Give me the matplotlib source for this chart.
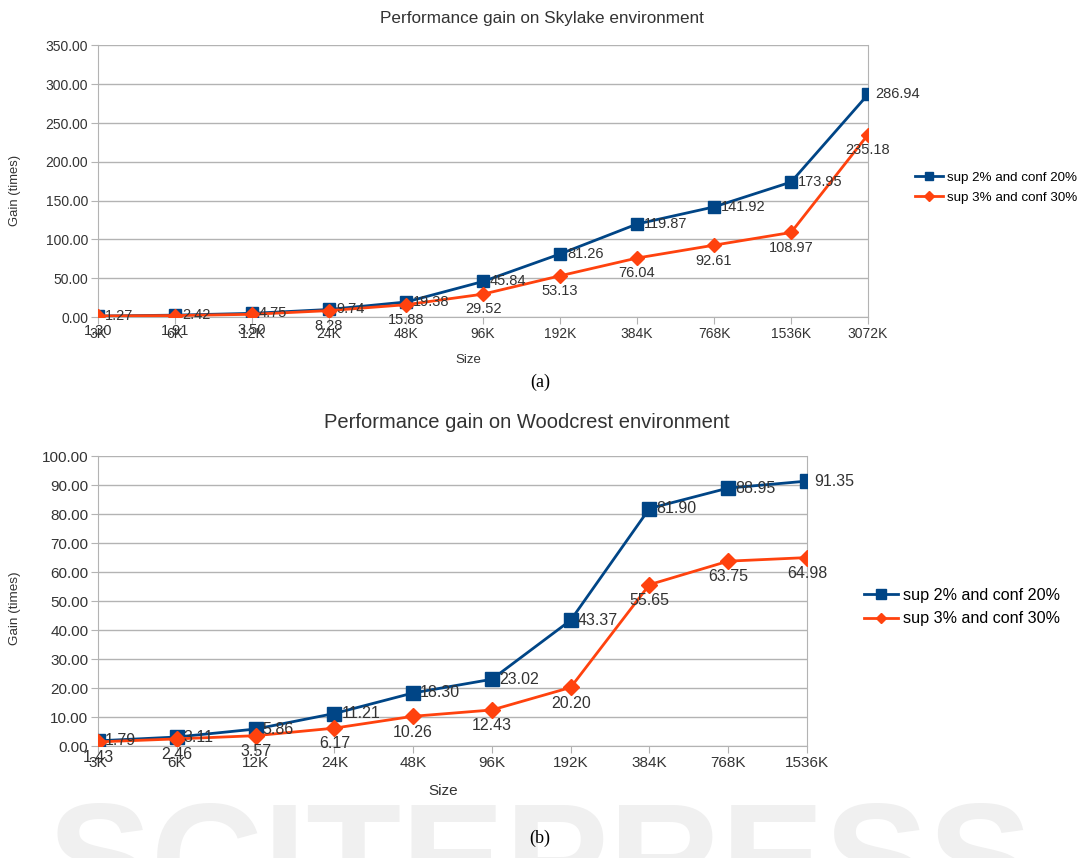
import matplotlib.pyplot as plt

plt.rcParams['font.family'] = ['Liberation Sans', 'DejaVu Sans']

# top chart (Skylake)
sizes_a = ["3K", "6K", "12K", "24K", "48K", "96K", "192K", "384K", "768K", "1536K", "3072K"]
sup2_a = [1.27, 2.42, 4.75, 9.74, 19.38, 45.84, 81.26, 119.87, 141.92, 173.95, 286.94]
sup3_a = [1.30, 1.91, 3.50, 8.28, 15.88, 29.52, 53.13, 76.04, 92.61, 108.97, 235.18]

# bottom chart (Woodcrest)
sizes_b = ["3K", "6K", "12K", "24K", "48K", "96K", "192K", "384K", "768K", "1536K"]
sup2_b = [1.79, 3.11, 5.86, 11.21, 18.30, 23.02, 43.37, 81.90, 88.95, 91.35]
sup3_b = [1.43, 2.46, 3.57, 6.17, 10.26, 12.43, 20.20, 55.65, 63.75, 64.98]

names = ["sup 2% and conf 20%", "sup 3% and conf 30%"]
blue = "#004586"
orange = "#ff420e"
grid = "#b3b3b3"
text_col = "#333333"

fig = plt.figure(figsize=(10.81, 8.58), dpi=100)

# faint watermark behind everything
fig.text(0.5, 1 - 912 / 858, "SCITEPRESS", ha="center", va="baseline", fontsize=112,
         fontweight="bold", color="#f0f0f0", zorder=0)


def draw(ax, sizes, s2, s3, ymax, ystep, fs, lfs, ms, legend_pos, legend_fs):
    x = list(range(len(sizes)))
    l1, = ax.plot(x, s2, color=blue, lw=2, marker="s", ms=ms, zorder=3)
    l2, = ax.plot(x, s3, color=orange, lw=2, marker="D", ms=ms * 0.8, zorder=3)
    for xi, v in zip(x, s2):
        ax.annotate(f"{v:.2f}", (xi, v), xytext=(5, 0), textcoords="offset points",
                    ha="left", va="center", fontsize=lfs, color=text_col, zorder=4)
    for xi, v in zip(x, s3):
        ax.annotate(f"{v:.2f}", (xi, v), xytext=(0, -6), textcoords="offset points",
                    ha="center", va="top", fontsize=lfs, color=text_col, zorder=4)
    ax.set_xlim(0, len(sizes) - 1)
    ax.set_ylim(0, ymax)
    ax.set_xticks(x)
    ax.set_xticklabels(sizes, fontsize=fs, color=text_col)
    yt = [i * ystep for i in range(int(round(ymax / ystep)) + 1)]
    ax.set_yticks(yt)
    ax.set_yticklabels([f"{v:.2f}" for v in yt], fontsize=fs, color=text_col)
    ax.grid(axis="y", color=grid, lw=1)
    ax.set_axisbelow(True)
    ax.patch.set_alpha(0)
    for sp in ax.spines.values():
        sp.set_color(grid)
    ax.spines["top"].set_visible(False)
    ax.tick_params(axis="both", color=grid, length=5, pad=2)
    ax.legend([l1, l2], names, loc="center left", bbox_to_anchor=legend_pos,
              bbox_transform=fig.transFigure, frameon=False, fontsize=legend_fs,
              handlelength=2.1, handletextpad=0.3, labelspacing=0.55,
              markerscale=0.7, borderpad=0, borderaxespad=0)


ax1 = fig.add_axes([0.0907, 0.6305, 0.7123, 0.3165])
draw(ax1, sizes_a, sup2_a, sup3_a, 350, 50, 10, 10.5, 8.5, (915 / 1081, 1 - 187.5 / 858), 9.6)
ax2 = fig.add_axes([0.0907, 0.1305, 0.6558, 0.338])
draw(ax2, sizes_b, sup2_b, sup3_b, 100, 10, 11, 11.5, 10, (864 / 1081, 1 - 607 / 858), 11.6)

fig.text(542 / 1081, 1 - 18 / 858, "Performance gain on Skylake environment",
         ha="center", va="center", fontsize=12.3, color=text_col)
fig.text(527 / 1081, 1 - 423 / 858, "Performance gain on Woodcrest environment",
         ha="center", va="center", fontsize=14.5, color=text_col)
fig.text(468 / 1081, 1 - 360 / 858, "Size", ha="center", va="center", fontsize=9.5, color=text_col)
fig.text(443 / 1081, 1 - 791 / 858, "Size", ha="center", va="center", fontsize=11, color=text_col)
fig.text(15 / 1081, 1 - 190 / 858, "Gain (times)", ha="center", va="center",
         rotation=90, fontsize=9.4, color=text_col)
fig.text(15 / 1081, 1 - 608 / 858, "Gain (times)", ha="center", va="center",
         rotation=90, fontsize=9.7, color=text_col)
fig.text(540 / 1081, 1 - 382 / 858, "(a)", ha="center", va="center",
         fontsize=13, family="Liberation Serif")
fig.text(540 / 1081, 1 - 838 / 858, "(b)", ha="center", va="center",
         fontsize=13, family="Liberation Serif")

fig.savefig("out.png", dpi=100)
